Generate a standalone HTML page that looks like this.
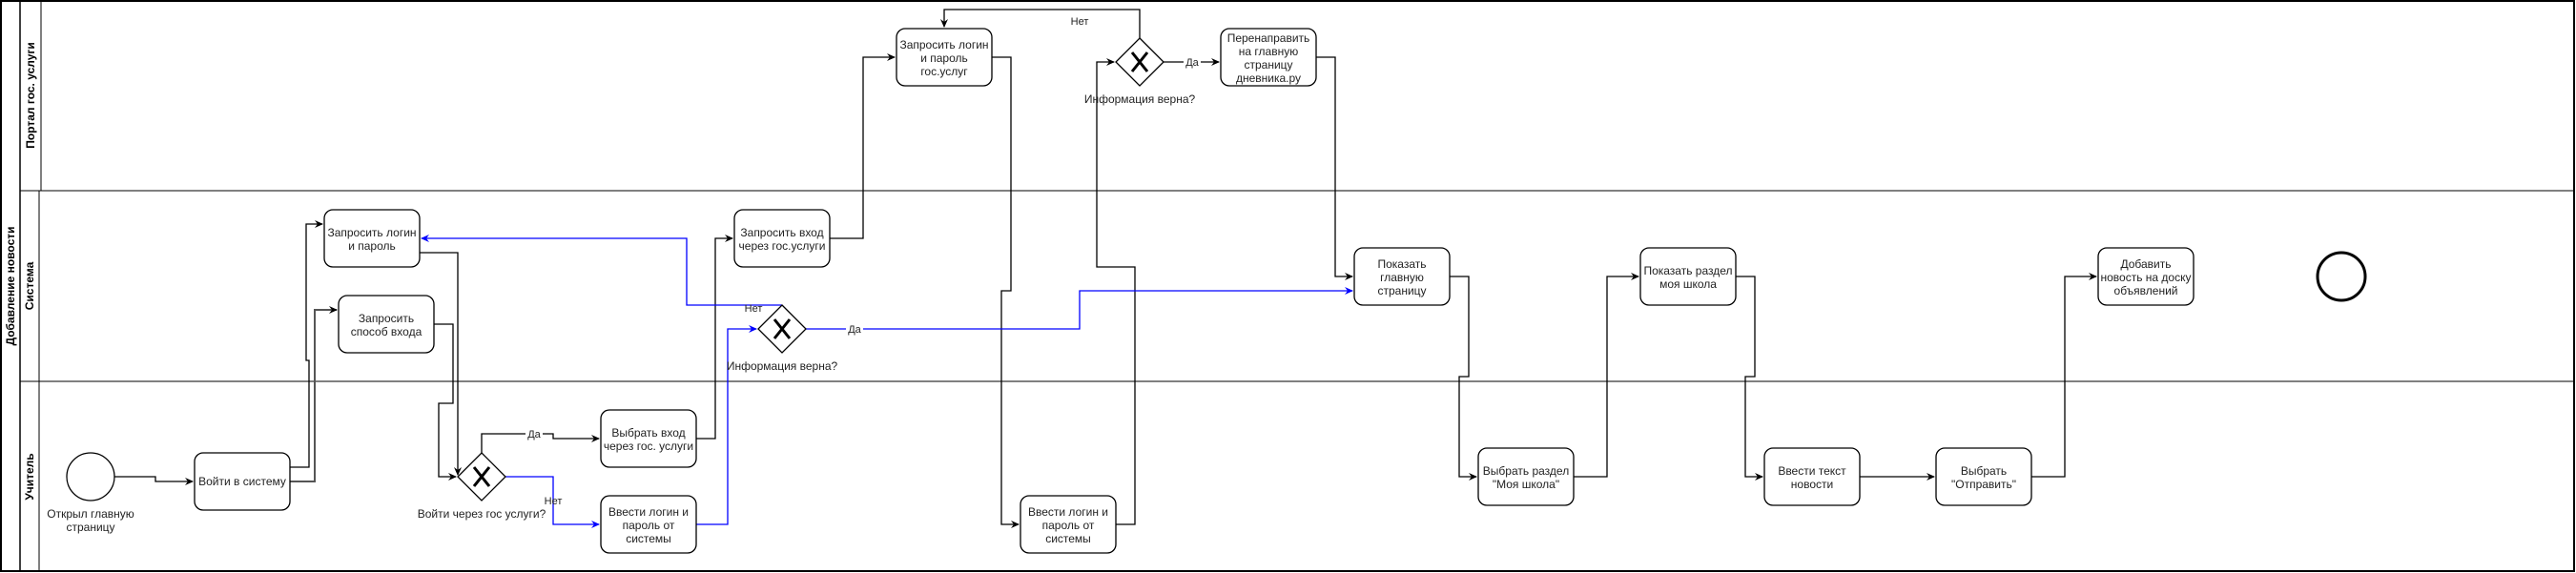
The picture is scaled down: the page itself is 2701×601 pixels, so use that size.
<!DOCTYPE html>
<html><head><meta charset="utf-8"><style>
html,body{margin:0;padding:0;background:#fff}
svg{display:block}
text{font-family:"Liberation Sans",Arial,sans-serif;font-size:12px;fill:#222}
.b{font-weight:bold;fill:#000}
.l{font-size:11px}
</style></head><body>
<svg width="2701" height="601" viewBox="0 0 2701 601" xmlns="http://www.w3.org/2000/svg">
<defs>
<marker id="a" markerWidth="10" markerHeight="10" refX="8" refY="5" orient="auto" markerUnits="userSpaceOnUse"><path d="M0,1 L9,5 L0,9 L3,5 Z" fill="#000"/></marker>
<marker id="ab" markerWidth="10" markerHeight="10" refX="8" refY="5" orient="auto" markerUnits="userSpaceOnUse"><path d="M0,1 L9,5 L0,9 L3,5 Z" fill="#00f"/></marker>
</defs>
<!-- pool -->
<rect x="1" y="1" width="2698" height="598" fill="none" stroke="#000" stroke-width="2"/>
<line x1="21" y1="1" x2="21" y2="599" stroke="#000" stroke-width="1.5"/>
<line x1="21" y1="200" x2="2699" y2="200" stroke="#000"/>
<line x1="21" y1="400" x2="2699" y2="400" stroke="#000"/>
<line x1="43" y1="1" x2="43" y2="200" stroke="#000"/>
<line x1="41" y1="200" x2="41" y2="599" stroke="#000"/>
<text class="b" transform="translate(15,300) rotate(-90)" text-anchor="middle">Добавление новости</text>
<text class="b" transform="translate(36,100) rotate(-90)" text-anchor="middle">Портал гос. услуги</text>
<text class="b" transform="translate(35,300) rotate(-90)" text-anchor="middle">Система</text>
<text class="b" transform="translate(35,500) rotate(-90)" text-anchor="middle">Учитель</text>

<g fill="none" stroke="#000" stroke-width="1.3">
<!-- connectors black -->
<polyline points="120,500 163,500 163,505 202,505" marker-end="url(#a)"/>
<polyline points="304,490 324,490 324,378 321,378 321,235 338,235" marker-end="url(#a)"/>
<polyline points="304,505 330,505 330,325 353,325" stroke="#555" stroke-width="2" marker-end="url(#a)"/>
<polyline points="440,265 480,265 480,498" marker-end="url(#a)"/>
<polyline points="455,340 475,340 475,423 460,423 460,500 478,500" marker-end="url(#a)"/>
<polyline points="505,475 505,455 580,455 580,460 628,460" marker-end="url(#a)"/>
<polyline points="730,460 750,460 750,250 768,250" marker-end="url(#a)"/>
<polyline points="870,250 905,250 905,60 938,60" marker-end="url(#a)"/>
<polyline points="1040,60 1060,60 1060,305 1050,305 1050,550 1068,550" marker-end="url(#a)"/>
<polyline points="1170,550 1190,550 1190,280 1150,280 1150,65 1168,65" marker-end="url(#a)"/>
<polyline points="1195,40 1195,10 990,10 990,28" marker-end="url(#a)"/>
<polyline points="1220,65 1278,65" marker-end="url(#a)"/>
<polyline points="1380,60 1400,60 1400,290 1418,290" marker-end="url(#a)"/>
<polyline points="1520,290 1540,290 1540,395 1530,395 1530,500 1548,500" marker-end="url(#a)"/>
<polyline points="1650,500 1685,500 1685,290 1718,290" marker-end="url(#a)"/>
<polyline points="1820,290 1840,290 1840,395 1830,395 1830,500 1848,500" marker-end="url(#a)"/>
<polyline points="1950,500 2028,500" marker-end="url(#a)"/>
<polyline points="2130,500 2165,500 2165,290 2198,290" marker-end="url(#a)"/>
</g>
<g fill="none" stroke="#00f" stroke-width="1.3">
<polyline points="530,500 580,500 580,550 628,550" marker-end="url(#ab)"/>
<polyline points="730,550 763,550 763,345 793,345" marker-end="url(#ab)"/>
<polyline points="820,320 720,320 720,250 442,250" marker-end="url(#ab)"/>
<polyline points="845,345 1132,345 1132,305 1418,305" marker-end="url(#ab)"/>
</g>

<!-- events -->
<circle cx="95" cy="500" r="25" fill="#fff" stroke="#000" stroke-width="1.3"/>
<text x="95" y="543" text-anchor="middle">Открыл главную</text>
<text x="95" y="557" text-anchor="middle">страницу</text>
<circle cx="2455" cy="290" r="25" fill="#fff" stroke="#000" stroke-width="3"/>

<!-- tasks -->
<g fill="#fff" stroke="#000" stroke-width="1.3">
<rect x="204" y="475" width="100" height="60" rx="9"/>
<rect x="340" y="220" width="100" height="60" rx="9"/>
<rect x="355" y="310" width="100" height="60" rx="9"/>
<rect x="630" y="430" width="100" height="60" rx="9"/>
<rect x="630" y="520" width="100" height="60" rx="9"/>
<rect x="770" y="220" width="100" height="60" rx="9"/>
<rect x="940" y="30" width="100" height="60" rx="9"/>
<rect x="1280" y="30" width="100" height="60" rx="9"/>
<rect x="1070" y="520" width="100" height="60" rx="9"/>
<rect x="1420" y="260" width="100" height="60" rx="9"/>
<rect x="1550" y="470" width="100" height="60" rx="9"/>
<rect x="1720" y="260" width="100" height="60" rx="9"/>
<rect x="1850" y="470" width="100" height="60" rx="9"/>
<rect x="2030" y="470" width="100" height="60" rx="9"/>
<rect x="2200" y="260" width="100" height="60" rx="9"/>
</g>
<g text-anchor="middle">
<text x="254" y="509">Войти в систему</text>
<text x="390" y="248">Запросить логин</text><text x="390" y="262">и пароль</text>
<text x="405" y="338">Запросить</text><text x="405" y="352">способ входа</text>
<text x="680" y="458">Выбрать вход</text><text x="680" y="472">через гос. услуги</text>
<text x="680" y="541">Ввести логин и</text><text x="680" y="555">пароль от</text><text x="680" y="569">системы</text>
<text x="820" y="248">Запросить вход</text><text x="820" y="262">через гос.услуги</text>
<text x="990" y="51">Запросить логин</text><text x="990" y="65">и пароль</text><text x="990" y="79">гос.услуг</text>
<text x="1330" y="44">Перенаправить</text><text x="1330" y="58">на главную</text><text x="1330" y="72">страницу</text><text x="1330" y="86">дневника.ру</text>
<text x="1120" y="541">Ввести логин и</text><text x="1120" y="555">пароль от</text><text x="1120" y="569">системы</text>
<text x="1470" y="281">Показать</text><text x="1470" y="295">главную</text><text x="1470" y="309">страницу</text>
<text x="1600" y="498">Выбрать раздел</text><text x="1600" y="512">"Моя школа"</text>
<text x="1770" y="288">Показать раздел</text><text x="1770" y="302">моя школа</text>
<text x="1900" y="498">Ввести текст</text><text x="1900" y="512">новости</text>
<text x="2080" y="498">Выбрать</text><text x="2080" y="512">"Отправить"</text>
<text x="2250" y="281">Добавить</text><text x="2250" y="295">новость на доску</text><text x="2250" y="309">объявлений</text>
</g>

<!-- gateways -->
<g fill="#fff" stroke="#000" stroke-width="1.3">
<polygon points="505,475 530,500 505,525 480,500"/>
<polygon points="820,320 845,345 820,370 795,345"/>
<polygon points="1195,40 1220,65 1195,90 1170,65"/>
</g>
<g stroke="#000" stroke-width="3">
<path d="M497,490 L513,510 M513,490 L497,510"/>
<path d="M812,335 L828,355 M828,335 L812,355"/>
<path d="M1187,55 L1203,75 M1203,55 L1187,75"/>
</g>
<g text-anchor="middle">
<text x="505" y="543">Войти через гос услуги?</text>
<text x="820" y="388">Информация верна?</text>
<text x="1195" y="108">Информация верна?</text>
</g>
<g class="l" text-anchor="middle">
<rect x="551" y="449" width="18" height="11" fill="#fff"/>
<text class="l" x="560" y="459">Да</text>
<text class="l" x="580" y="529">Нет</text>
<text class="l" x="790" y="327">Нет</text>
<rect x="887" y="339" width="18" height="11" fill="#fff"/>
<text class="l" x="896" y="349">Да</text>
<text class="l" x="1132" y="26">Нет</text>
<rect x="1241" y="59" width="18" height="11" fill="#fff"/>
<text class="l" x="1250" y="69">Да</text>
</g>
</svg>
</body></html>
